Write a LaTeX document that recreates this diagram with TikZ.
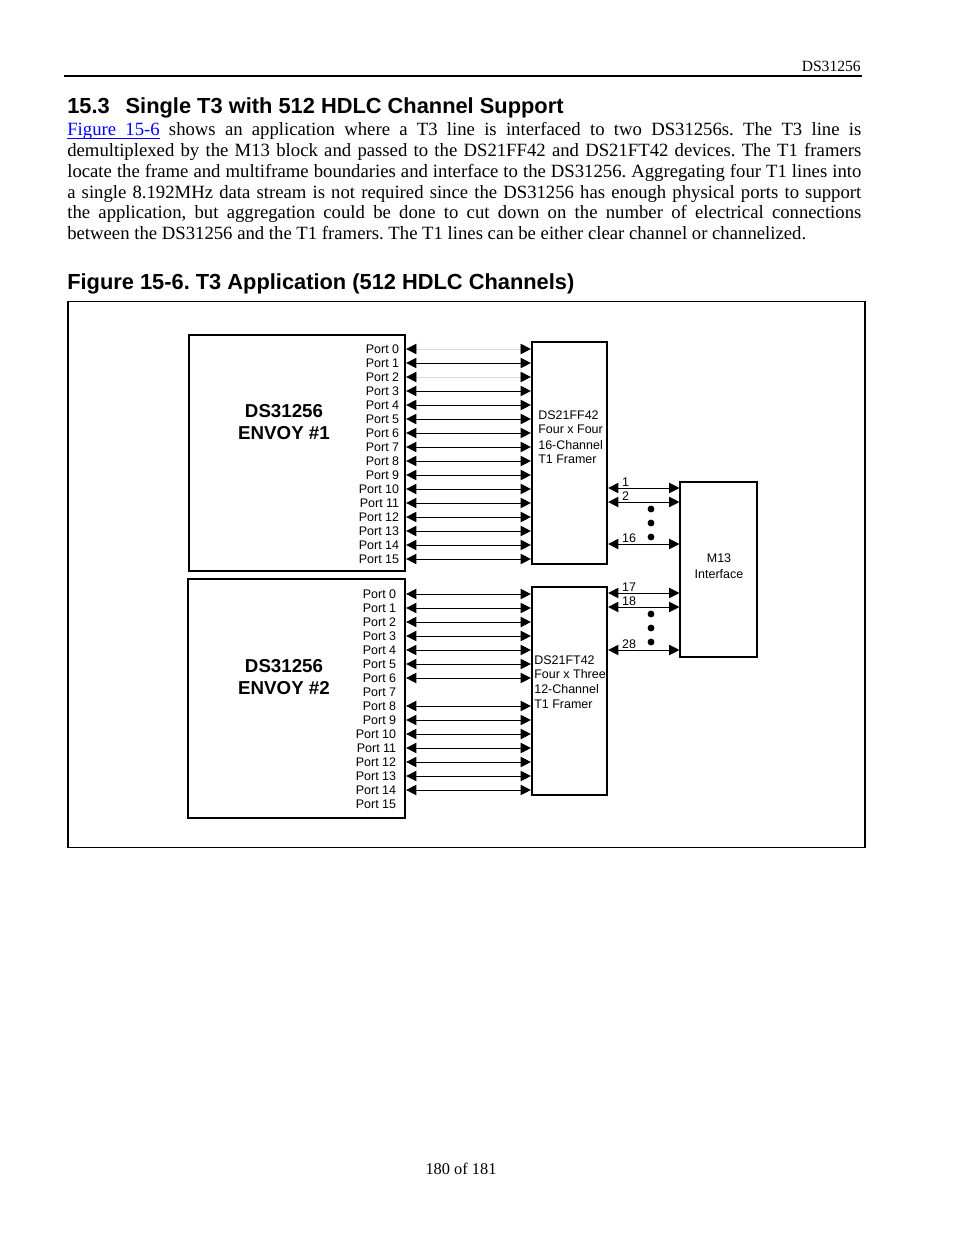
\documentclass[tikz,border=0pt]{standalone}
\usepackage{fontspec}
\setmainfont{Liberation Serif}
\setsansfont{Liberation Sans}
\usepackage{xcolor}
\usetikzlibrary{arrows.meta, positioning, calc}
\newcommand{\pxu}{0.6413pt}
\newlength{\ulw}
\newcommand{\ulink}[1]{\settowidth{\ulw}{#1}\textcolor{blue}{\rlap{\rule[-1.7pt]{\ulw}{0.5pt}}#1}}
\newcommand{\ulgap}{\textcolor{blue}{\leaders\hrule height -1.2pt depth 1.7pt\hskip\fontdimen2\font plus\fontdimen3\font minus\fontdimen4\font}}
\frenchspacing

\begin{document}
\begin{tikzpicture}[
    x=0.6413pt, y=-0.6413pt,
    font=\sffamily,
    chip/.style={draw=black, line width=1.4pt, inner sep=0pt},
    thinbox/.style={draw=black, line width=0.7pt, inner sep=0pt},
    title/.style={font=\sffamily\bfseries\fontsize{12}{14.1}\selectfont, align=center, inner sep=0pt},
    chiptext/.style={font=\sffamily\fontsize{8}{9}\selectfont, align=left, inner sep=0pt},
    port/.style={font=\sffamily\fontsize{8}{9}\selectfont, inner sep=1pt, anchor=east},
    chan/.style={font=\sffamily\fontsize{8}{9}\selectfont, inner sep=0.5pt, anchor=south west},
    bodyline/.style={font=\rmfamily\fontsize{12}{13.25}\selectfont, inner sep=0pt, anchor=base west},
    heading/.style={font=\sffamily\bfseries\fontsize{14}{16}\selectfont, inner sep=0pt, anchor=base west},
    link/.style={{Triangle[length=6.6pt, width=6.6pt]}-{Triangle[length=6.6pt, width=6.6pt]}, line width=0.6pt},
    faint/.style={draw=black!15, {Triangle[length=6.6pt, width=6.6pt, color=black]}-{Triangle[length=6.6pt, width=6.6pt, color=black]}}
]
    \useasboundingbox[fill=white] (0,0) rectangle (954,1235);

    % Page header
    \node[anchor=base east, inner sep=0pt, font=\rmfamily\fontsize{10}{12}\selectfont] (hdr) at (861,71.5) {DS31256};
    \draw[line width=0.7pt] (64,76) -- (862,76);

    % Section text
    \node[heading] (sec) at (67,114) {15.3\hspace{0.45em} Single T3 with 512 HDLC Channel Support};
    \node[bodyline] (body1) at (67,136) {\makebox[509.2pt][s]{\ulink{Figure}\ulgap\ulink{15-6} shows an application where a T3 line is interfaced to two DS31256s. The T3 line is}};
    \node[bodyline] (body2) at (67,156.7) {\makebox[509.2pt][s]{demultiplexed by the M13 block and passed to the DS21FF42 and DS21FT42 devices. The T1 framers}};
    \node[bodyline] (body3) at (67,177.3) {\makebox[509.2pt][s]{locate the frame and multiframe boundaries and interface to the DS31256. Aggregating four T1 lines into}};
    \node[bodyline] (body4) at (67,198) {\makebox[509.2pt][s]{a single 8.192MHz data stream is not required since the DS31256 has enough physical ports to support}};
    \node[bodyline] (body5) at (67,218.6) {\makebox[509.2pt][s]{the application, but aggregation could be done to cut down on the number of electrical connections}};
    \node[bodyline] (body6) at (67,239.3) {between the DS31256 and the T1 framers. The T1 lines can be either clear channel or channelized.};

    \node[heading] (cap) at (67,289.5) {Figure 15-6. T3 Application (512 HDLC Channels)};

    % Figure frame
    \node[thinbox, minimum width=797*\pxu, minimum height=546*\pxu] (frame) at (466.5,574.5) {};

    % Chips
    \node[chip, minimum width=216*\pxu, minimum height=236*\pxu] (env1) at (297,453) {};
    \node[chip, minimum width=217*\pxu, minimum height=239*\pxu] (env2) at (296.5,698.5) {};
    \node[chip, minimum width=75*\pxu, minimum height=222*\pxu] (ff42) at (569.5,453) {};
    \node[chip, minimum width=75*\pxu, minimum height=208*\pxu] (ft42) at (569.5,691) {};
    \node[thinbox, minimum width=77*\pxu, minimum height=175*\pxu] (m13) at (718.5,569.5) {};

    \node[title] (env1t) at (284,422) {DS31256\\ENVOY \#1};
    \node[title] (env2t) at (284,677) {DS31256\\ENVOY \#2};
    \node[chiptext, anchor=west] (ff42a) at (538,422) {DS21FF42\\Four x Four};
    \node[chiptext, anchor=west] (ff42b) at (538,452.5) {16-Channel\\T1 Framer};
    \node[chiptext, anchor=west, font=\sffamily\fontsize{8}{9.4}\selectfont] (ft42t) at (534,682) {DS21FT42\\Four x Three\\12-Channel\\T1 Framer};
    \node[chiptext, align=center, font=\sffamily\fontsize{8}{10.3}\selectfont] (m13t) at (719,566) {M13\\Interface};

    % Ports
    \foreach \i in {0,...,15} {
        \node[port] (e1p\i) at (401,{349+14*\i}) {Port \i};
        \node[port] (e2p\i) at (398,{594+14*\i}) {Port \i};
    }

    % Port connectors
    \foreach \i in {0,2}
        \draw[faint] (env1.east |- e1p\i) -- (ff42.west |- e1p\i);
    \foreach \i in {1,3,4,...,15}
        \draw[link] (env1.east |- e1p\i) -- (ff42.west |- e1p\i);
    \foreach \i in {0,...,6,8,9,...,14}
        \draw[link] (env2.east |- e2p\i) -- (ft42.west |- e2p\i);

    % T1 lines to M13
    \node[chan] (c1) at (621,488) {1};
    \node[chan] (c2) at (621,502) {2};
    \node[chan] (c16) at (621,544) {16};
    \node[chan] (c17) at (621,593) {17};
    \node[chan] (c18) at (621,607) {18};
    \node[chan] (c28) at (621,650) {28};
    \foreach \c in {c1,c2,c16}
        \draw[link] (ff42.east |- \c.south) -- (m13.west |- \c.south);
    \foreach \c in {c17,c18,c28}
        \draw[link] (ft42.east |- \c.south) -- (m13.west |- \c.south);

    % Continuation dots
    \foreach \y in {509,523,537,614,628,642}
        \fill (651,\y) circle (2.2pt);

    % Page footer
    \node[anchor=base, inner sep=0pt, font=\rmfamily\fontsize{10.5}{12}\selectfont] (ftr) at (461,1174) {180 of 181};
\end{tikzpicture}
\end{document}
